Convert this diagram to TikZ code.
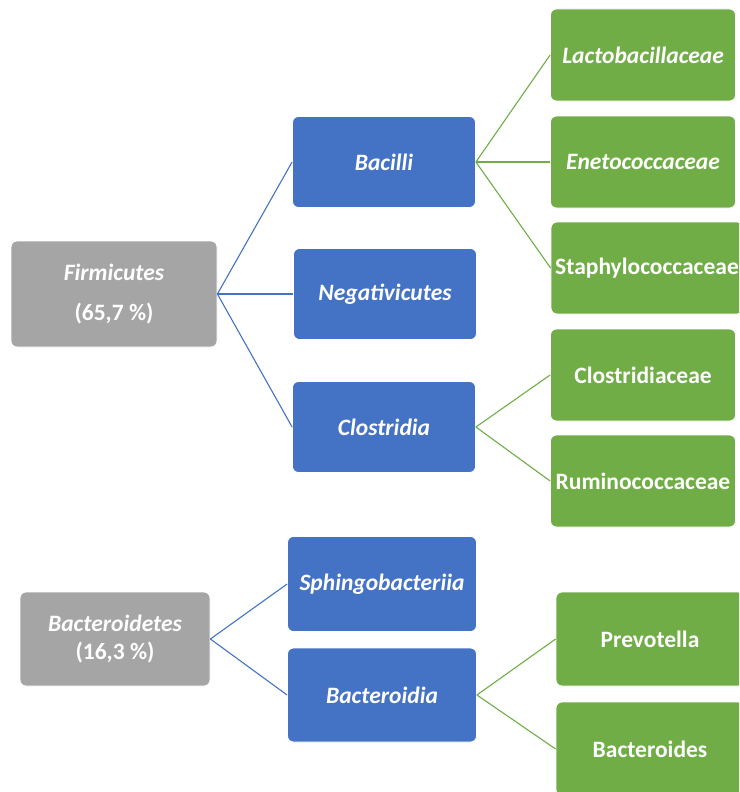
\documentclass[tikz,border=0pt]{standalone}
\usepackage{fontspec}
\setmainfont{Carlito}
\usetikzlibrary{positioning}
\definecolor{phylumgray}{HTML}{A5A5A5}
\definecolor{classblue}{HTML}{4472C4}
\definecolor{familygreen}{HTML}{70AD47}

\begin{document}
\begin{tikzpicture}[x=1pt, y=-1pt,
  box/.style={rectangle, draw=white, line width=0.8pt, rounded corners=6pt, text=white, align=center, inner sep=0pt, font=\bfseries\fontsize{23.5}{28}\selectfont},
  phylum/.style={box, fill=phylumgray},
  class/.style={box, fill=classblue, minimum width=183pt, minimum height=91pt},
  family/.style={box, fill=familygreen, minimum width=185pt, minimum height=92pt},
  line/.style={draw=classblue, line width=1.1pt},
  gline/.style={draw=familygreen, line width=1.1pt}]

  \useasboundingbox (0,0) rectangle (739,792);
  \clip (0,0) rectangle (739,792);

  % Firmicutes branch
  \node [phylum, minimum width=206pt, minimum height=106pt] (firmicutes) at (114,294) {\itshape Firmicutes\\[12pt](65,7 \%)};
  \node [class] (bacilli) at (384,162) {\itshape Bacilli};
  \node [class] (negativicutes) at (385,294) {\itshape Negativicutes};
  \node [class] (clostridia) at (384,427) {\itshape Clostridia};

  \node [family] (lacto) at (643,55) {\itshape Lactobacillaceae};
  \node [family] (eneto) at (643,162) {\itshape Enetococcaceae};
  \node [family, minimum width=192pt] (staphylo) at (647,268) {Staphylococcaceae};
  \node [family] (clostridiaceae) at (643,375) {Clostridiaceae};
  \node [family] (rumino) at (643,481) {Ruminococcaceae};

  % Bacteroidetes branch
  \node [phylum, minimum width=190pt, minimum height=94pt] (bacteroidetes) at (115,639) {\itshape Bacteroidetes\\(16,3 \%)};
  \node [class, minimum width=189pt, minimum height=95pt] (sphingo) at (382,584) {\itshape Sphingobacteriia};
  \node [class, minimum width=189pt, minimum height=94pt] (bacteroidia) at (382,695) {\itshape Bacteroidia};

  \node [family, minimum width=188pt, minimum height=94pt] (prevotella) at (650,639) {Prevotella};
  \node [family, minimum width=188pt, minimum height=94pt] (bacteroides) at (650,749) {Bacteroides};

  \path [line] (firmicutes.east) -- (bacilli.west);
  \path [line] (firmicutes.east) -- (negativicutes.west);
  \path [line] (firmicutes.east) -- (clostridia.west);
  \path [gline] (bacilli.east) -- (lacto.west);
  \path [gline] (bacilli.east) -- (eneto.west);
  \path [gline] (bacilli.east) -- (staphylo.west);
  \path [gline] (clostridia.east) -- (clostridiaceae.west);
  \path [gline] (clostridia.east) -- (rumino.west);
  \path [line] (bacteroidetes.east) -- (sphingo.west);
  \path [line] (bacteroidetes.east) -- (bacteroidia.west);
  \path [gline] (bacteroidia.east) -- (prevotella.west);
  \path [gline] (bacteroidia.east) -- (bacteroides.west);
\end{tikzpicture}
\end{document}
